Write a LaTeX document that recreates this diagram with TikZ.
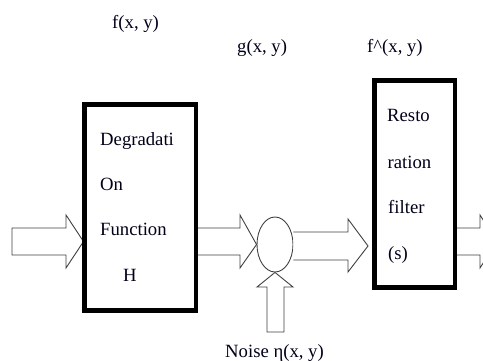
\documentclass[tikz,border=0pt]{standalone}
\usepackage{fontspec}
\setmainfont{Liberation Serif}
\usetikzlibrary{shapes.geometric}
\begin{document}
\begin{tikzpicture}[x=1pt,y=-1pt,
  lbl/.style={inner sep=0pt,anchor=base west,font=\fontsize{18.7}{22}\selectfont,text=black!90!blue},
  blockbox/.style={draw=black,line width=3pt,rectangle,inner sep=0pt},
  blockarrow/.style={draw=black!75,line width=0.9pt,fill=white,line join=miter},
  junction/.style={draw=black!75,line width=0.9pt,ellipse,inner sep=0pt,minimum width=36pt,minimum height=55pt}]
\useasboundingbox (0,0) rectangle (483,361);
\clip (0,0) rectangle (483,361);
% blocks
\node[blockbox,minimum width=110pt,minimum height=204pt] (deg) at (140,207.5) {};
\node[blockbox,minimum width=79pt,minimum height=205pt] (rest) at (414.5,184) {};
\node[junction] (sum) at (275,244.5) {};
% input arrow
\coordinate (inL) at (12,241.5);
\draw[blockarrow] (inL) ++(0,-13.5) -- (66,228) -- (66,215) -- (deg.west |- 0,241.5) -- (66,268) -- (66,255) -- (12,255) -- cycle;
% arrow deg -> sum
\draw[blockarrow] (deg.east |- 0,228) -- (240,228) -- (240,215) -- (sum.west) -- (240,268) -- (240,255) -- (deg.east |- 0,255);
% arrow sum -> rest
\draw[blockarrow] (sum.east |- 0,232) -- (348,232) -- (348,219) -- (368,246) -- (348,272) -- (348,260) -- (sum.east |- 0,260);
% noise arrow
\coordinate (nz) at (275,332);
\draw[blockarrow] (267,332) -- (267,287) -- (257,287) -- (sum.south) -- (293,287) -- (284,287) -- (284,332) -- cycle;
% output arrow
\draw[blockarrow] (rest.east |- 0,228) -- (480,228) -- (480,215) -- (497,241.5) -- (480,268) -- (480,255) -- (rest.east |- 0,255);
% redraw box borders on top
\draw[line width=3pt] (deg.north west) rectangle (deg.south east);
\draw[line width=3pt] (rest.north west) rectangle (rest.south east);
% labels
\node[lbl] (tf) at (112,29) {f(x, y)};
\node[lbl] (tg) at (237,53) {g(x, y)};
\node[lbl] (tfh) at (367,53) {f\^{}(x, y)};
\node[lbl] (d1) at (100,146) {Degradati};
\node[lbl] (d2) at (100,190) {On};
\node[lbl] (d3) at (100,236) {Function};
\node[lbl] (d4) at (123,282) {H};
\node[lbl] (r1) at (387,122) {Resto};
\node[lbl] (r2) at (387.5,168) {ration};
\node[lbl] (r3) at (388,214) {filter};
\node[lbl] (r4) at (388,259) {(s)};
\node[lbl] (tn) at (225,357) {Noise η(x, y)};
\end{tikzpicture}
\end{document}
